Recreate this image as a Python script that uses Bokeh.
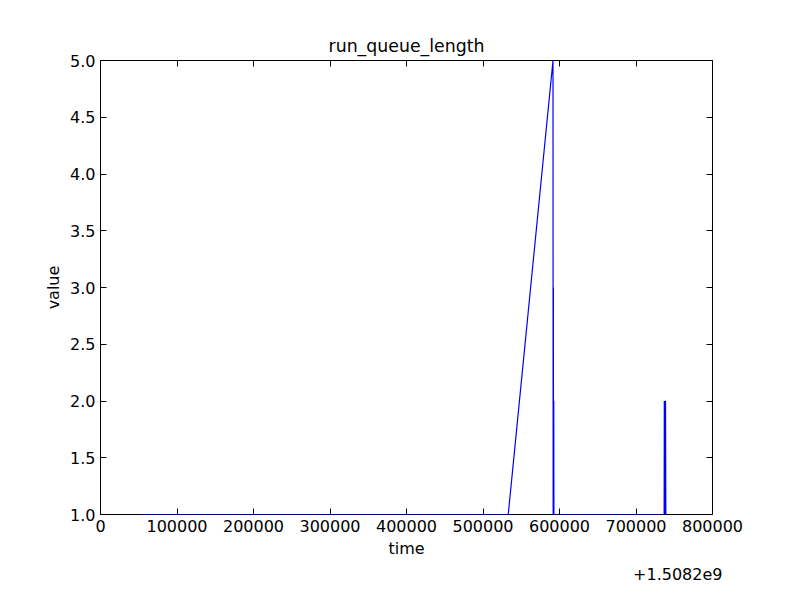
from bokeh.plotting import figure
from bokeh.models import LinearAxis, Title, FixedTicker, CustomJSTickFormatter
from bokeh.embed import file_html
from bokeh.resources import INLINE

# time offsets from 1.5082e9 and run queue length
times = [50000, 533000, 591500, 591700, 592000, 592200, 592500, 592700, 593200,
         736800, 737000, 737400, 737700, 738000, 738300, 738600, 739000]
values = [1, 1, 5, 1, 3, 1, 2, 1, 1,
          1, 2, 1, 2, 1, 2, 2, 1]

FONT = "DejaVu Sans"

p = figure(width=784, height=584, x_range=(0, 800000), y_range=(1.0, 5.0),
           output_backend="svg", toolbar_location=None, tools="",
           title="run_queue_length",
           min_border_left=100, min_border_right=72, min_border_top=60, min_border_bottom=30)
p.title.align = "center"
p.title.text_font = FONT
p.title.text_font_size = "13pt"
p.title.text_font_style = "normal"
p.title.text_color = "black"
p.xgrid.visible = False
p.ygrid.visible = False
p.outline_line_color = "black"
p.outline_line_width = 1

p.line(times, values, line_color="blue", line_width=1.2)

p.xaxis.ticker = FixedTicker(ticks=list(range(0, 800001, 100000)))
p.yaxis.ticker = FixedTicker(ticks=[1.0 + 0.5 * i for i in range(9)])
p.xaxis.axis_label = "time"
p.yaxis.axis_label = "value"
p.yaxis.formatter = CustomJSTickFormatter(code="return tick.toFixed(1)")
p.xaxis.formatter = CustomJSTickFormatter(code="return tick.toFixed(0)")

for ax in (p.xaxis[0], p.yaxis[0]):
    ax.major_tick_in = 6
    ax.major_tick_out = 0
    ax.minor_tick_in = 0
    ax.minor_tick_out = 0
    ax.axis_line_color = None
    ax.major_label_text_font = FONT
    ax.major_label_text_font_size = "12pt"
    ax.major_label_text_color = "black"
    ax.axis_label_text_font = FONT
    ax.axis_label_text_font_size = "12pt"
    ax.axis_label_text_font_style = "normal"
    ax.axis_label_text_color = "black"
    ax.axis_label_standoff = 4

for side, tk in (("right", p.yaxis[0].ticker), ("above", p.xaxis[0].ticker)):
    a = LinearAxis(ticker=tk, formatter=CustomJSTickFormatter(code="return ''"),
                   major_tick_in=6, major_tick_out=0, minor_tick_in=0,
                   minor_tick_out=0, axis_line_color=None, major_label_standoff=0)
    p.add_layout(a, side)

p.add_layout(Title(text="+1.5082e9", align="right", text_font=FONT,
                   text_font_size="12pt", text_font_style="normal",
                   text_color="black", offset=-10), "below")

open("out.html", "w").write(file_html(p, INLINE))
